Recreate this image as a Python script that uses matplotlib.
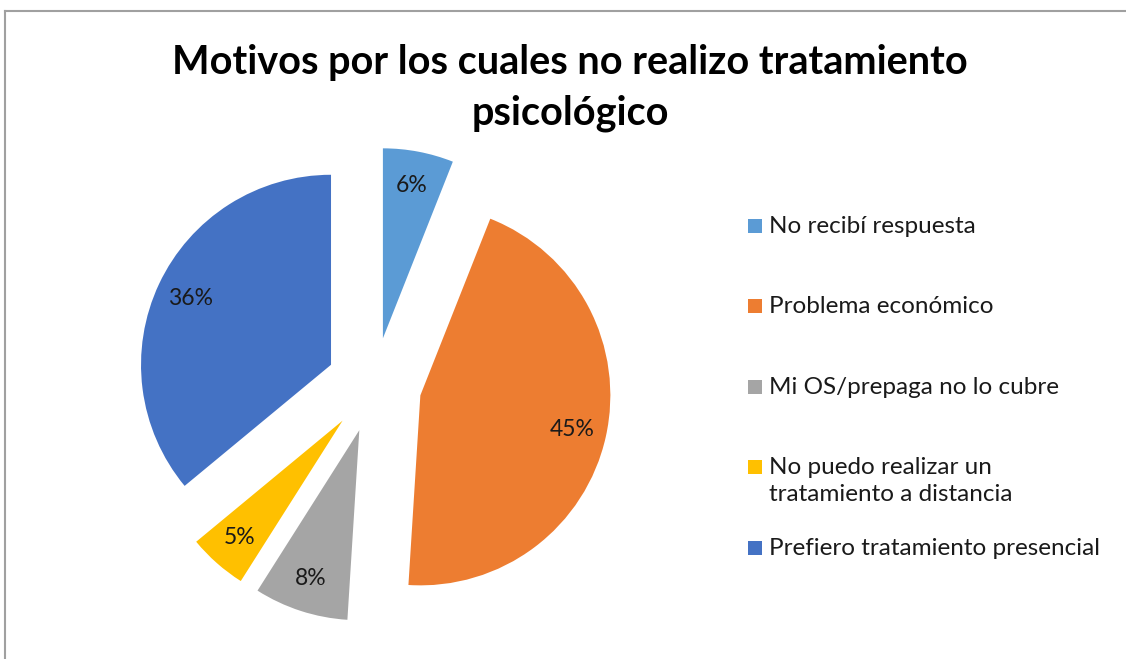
import matplotlib
matplotlib.use('agg')
import matplotlib.pyplot as plt
from matplotlib.lines import Line2D
from matplotlib.patches import Rectangle

plt.rcParams['font.family'] = ['Lato', 'DejaVu Sans']

# data
categories = ['No recibí respuesta', 'Problema económico', 'Mi OS/prepaga no lo cubre',
              'No puedo realizar un\ntratamiento a distancia', 'Prefiero tratamiento presencial']
values = [6, 45, 8, 5, 36]
colors = ['#5B9BD5', '#ED7D31', '#A5A5A5', '#FFC000', '#4472C4']
title = 'Motivos por los cuales no realizo tratamiento\npsicológico'

W, H = 1126, 659
fig = plt.figure(figsize=(W / 100, H / 100), dpi=100)

# pie centred at (374, 385) px, radius 190 px
L = 1.4
ax_w = 2 * L * 190
ax = fig.add_axes([(374 - ax_w / 2) / W, (H - 385 - ax_w / 2) / H, ax_w / W, ax_w / H])
wedges, texts, autotexts = ax.pie(values, colors=colors, explode=[0.25] * len(values),
                                  startangle=90, counterclock=False, radius=1,
                                  autopct='%1.0f%%', pctdistance=0.82,
                                  textprops={'fontsize': 16.5, 'color': '#1a1a1a'},
                                  wedgeprops={'linewidth': 0})
ax.set_xlim(-L, L)
ax.set_ylim(-L, L)
ax.set_aspect('equal')
ax.axis('off')

# title
fig.text(570 / W, 1 - 88 / H, title, ha='center', va='center', fontsize=28.5,
         fontweight='bold', linespacing=1.45, color='black')

# legend drawn by hand
row_y = [226, 306, 387, 467, 548]
for lab, col, y in zip(categories, colors, row_y):
    fig.patches.append(Rectangle((748 / W, 1 - (y + 7) / H), 14 / W, 14 / H,
                                 transform=fig.transFigure, facecolor=col, edgecolor='none'))
    fig.text(769 / W, 1 - (y - 10) / H, lab, ha='left', va='top', fontsize=17.5,
             color='#1a1a1a', linespacing=1.37)

# chart border (top and left only visible)
fig.add_artist(Line2D([5 / W, 1], [1 - 11 / H, 1 - 11 / H], transform=fig.transFigure,
                      color='#a0a0a0', linewidth=1.5))
fig.add_artist(Line2D([5 / W, 5 / W], [0, 1 - 11 / H], transform=fig.transFigure,
                      color='#a0a0a0', linewidth=1.5))

fig.savefig('out.png', dpi=100)
